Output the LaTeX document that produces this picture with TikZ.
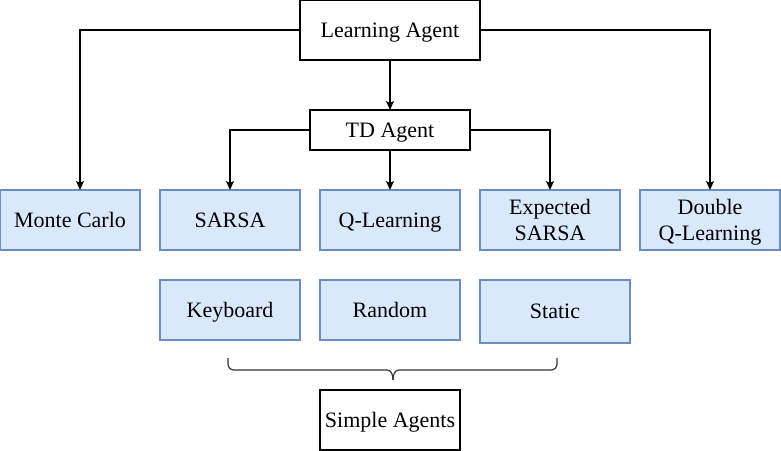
\documentclass[tikz,border=0pt]{standalone}
\usepackage{fontspec}
\setmainfont{Liberation Serif}
\usetikzlibrary{arrows.meta}
\definecolor{bfill}{HTML}{DAE8FC}
\definecolor{bdraw}{HTML}{6C8EBF}
\tikzset{
  every node/.style={font=\fontsize{22bp}{26bp}\selectfont, inner sep=0pt, outer sep=0pt, align=center, text height=14.5bp, text depth=0pt},
  twoline/.style={text height=, text depth=0pt},
  plainbox/.style={draw=black, fill=white, line width=1.2bp},
  bluebox/.style={draw=bdraw, fill=bfill, line width=1.2bp, minimum width=140bp, minimum height=60bp},
  arr/.style={draw=black, line width=1.2bp, -{Stealth[length=9bp,width=8bp,inset=2bp]}},
  brace/.style={draw=black!80, line width=1.2bp}
}
\begin{document}
\begin{tikzpicture}[x=1bp,y=-1bp]
\useasboundingbox (0,0) rectangle (781,451);
\node[plainbox, minimum width=180bp, minimum height=60bp] (la) at (390,30) {Learning Agent};
\node[plainbox, minimum width=160bp, minimum height=40bp] (td) at (390,130) {TD Agent};
\node[bluebox] (mc) at (70,220) {Monte Carlo};
\node[bluebox] (sarsa) at (230,220) {SARSA};
\node[bluebox] (ql) at (390,220) {Q-Learning};
\node[bluebox, twoline] (es) at (550,220) {Expected\\SARSA};
\node[bluebox, twoline] (dql) at (710,220) {Double\\Q-Learning};
\node[bluebox] (kb) at (230,310) {Keyboard};
\node[bluebox] (rnd) at (390,310) {Random};
\node[bluebox, minimum width=150bp, minimum height=63bp] (st) at (555,311.5) {Static};
\node[plainbox, minimum width=140bp, minimum height=60bp] (sa) at (390,420) {Simple Agents};
\coordinate (mcin) at ([xshift=10bp]mc.north);
\draw[arr] (la.west) -| (mcin);
\draw[arr] (la.east) -| (dql.north);
\draw[arr] (la.south) -- (td.north);
\draw[arr] (td.west) -| (sarsa.north);
\draw[arr] (td.south) -- (ql.north);
\draw[arr] (td.east) -| (es.north);
\coordinate (bl) at (228,358);
\coordinate (br) at (557,358);
\coordinate (btip) at (393,380);
\draw[brace] (bl) -- (228,364) to[out=-90,in=180] (234,370) -- (387,370) to[out=0,in=90] (btip);
\draw[brace] (btip) to[out=90,in=180] (399,370) -- (551,370) to[out=0,in=-90] (557,364) -- (br);
\end{tikzpicture}
\end{document}
